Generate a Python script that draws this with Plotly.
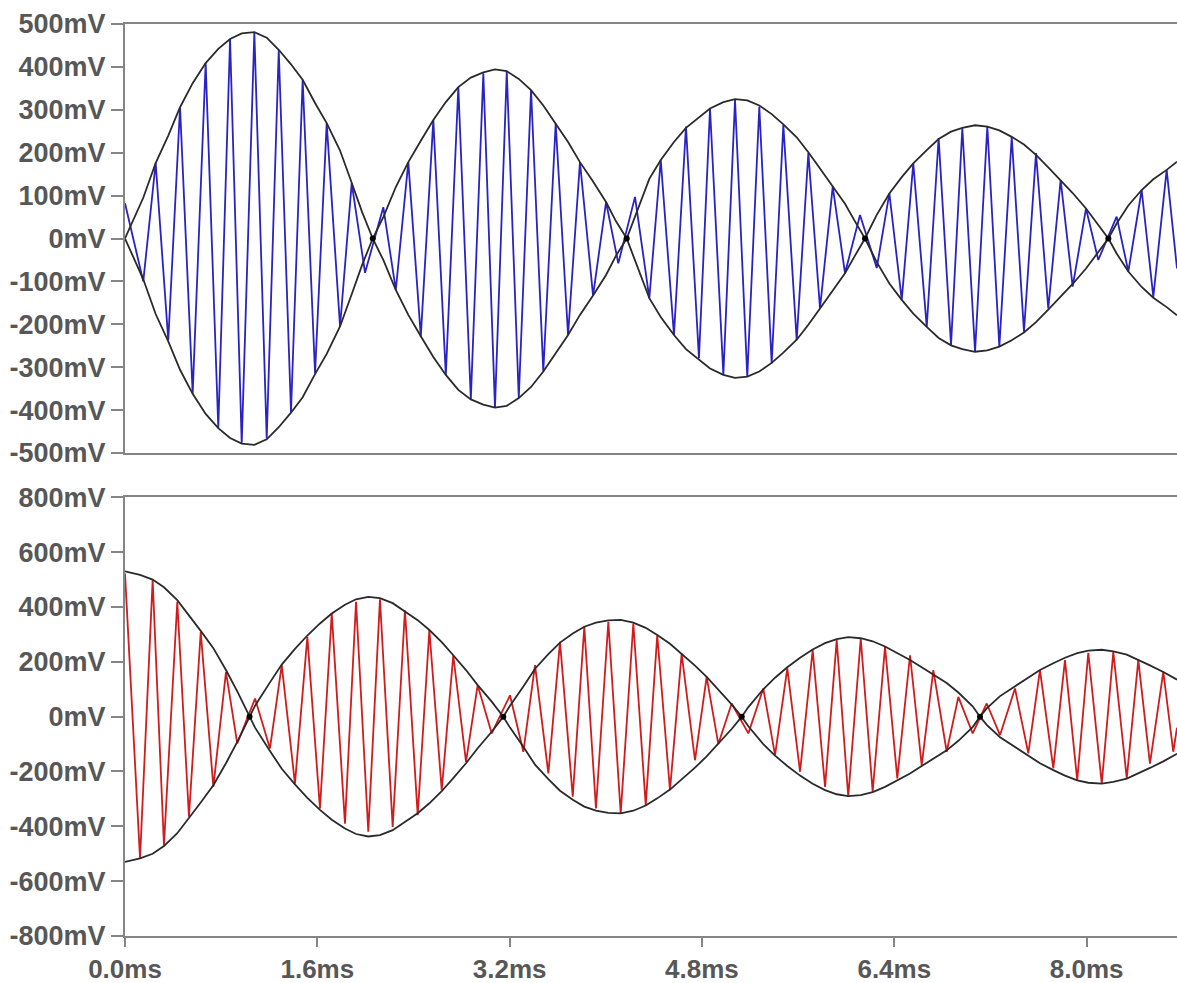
import plotly.graph_objects as go

# ---------------- data (time in ms, voltage in mV) ----------------
# Top trace (blue): successive extrema of the oscillation
top_t = [0.000, 0.152, 0.255, 0.360, 0.458, 0.563, 0.671, 0.776, 0.874, 0.971,
         1.076, 1.179, 1.279, 1.381, 1.478, 1.581, 1.678, 1.789, 1.886, 1.997,
         2.149, 2.253, 2.357, 2.461, 2.565, 2.669, 2.773, 2.877, 2.981, 3.078,
         3.176, 3.276, 3.378, 3.480, 3.583, 3.686, 3.785, 3.894, 4.002, 4.104,
         4.243, 4.362, 4.457, 4.567, 4.667, 4.775, 4.867, 4.978, 5.075, 5.177,
         5.277, 5.380, 5.477, 5.588, 5.685, 5.782, 5.888, 5.990, 6.115, 6.254,
         6.359, 6.462, 6.558, 6.670, 6.769, 6.872, 6.966, 7.072, 7.174, 7.274,
         7.377, 7.479, 7.579, 7.681, 7.784, 7.884, 7.995, 8.097, 8.250, 8.347,
         8.458, 8.555, 8.666, 8.752]
top_mv = [82, -100, 176, -237, 306, -361, 409, -441, 465, -478,
          480, -466, 439, -405, 370, -314, 269, -205, 129, -80,
          73, -120, 178, -228, 276, -318, 353, -375, 385, -394,
          389, -372, 346, -310, 268, -225, 178, -133, 85, -58,
          97, -139, 183, -225, 261, -279, 303, -318, 323, -322,
          307, -291, 265, -237, 199, -163, 121, -81, 55, -69,
          105, -143, 175, -206, 234, -248, 257, -264, 261, -252,
          237, -217, 199, -163, 136, -112, 70, -50, 51, -77,
          113, -136, 160, -70]

# Top envelope (black), signed: drawn as +env and -env
top_env_t = [0.000, 0.152, 0.255, 0.360, 0.458, 0.563, 0.671, 0.776, 0.874, 0.971,
             1.076, 1.179, 1.279, 1.381, 1.478, 1.581, 1.678, 1.789, 1.886, 1.972, 2.061,
             2.149, 2.253, 2.357, 2.461, 2.565, 2.669, 2.773, 2.877, 2.981, 3.078,
             3.176, 3.276, 3.378, 3.480, 3.583, 3.686, 3.785, 3.894, 4.002, 4.085, 4.174,
             4.243, 4.362, 4.457, 4.567, 4.667, 4.775, 4.867, 4.978, 5.075, 5.177,
             5.277, 5.380, 5.477, 5.588, 5.685, 5.782, 5.888, 5.990, 6.073, 6.156,
             6.254, 6.359, 6.462, 6.558, 6.670, 6.769, 6.872, 6.966, 7.072, 7.174,
             7.274, 7.377, 7.479, 7.579, 7.681, 7.784, 7.884, 7.995, 8.097, 8.181,
             8.250, 8.347, 8.458, 8.555, 8.666, 8.752]
top_env_mv = [0, 95, 176, 240, 306, 362, 409, 442, 465, 478,
              481, 468, 440, 406, 370, 316, 269, 205, 130, 62, 0,
              -50, -120, -178, -228, -276, -318, -353, -375, -387, -394,
              -390, -372, -346, -310, -268, -225, -178, -133, -85, -40, 0,
              50, 139, 183, 225, 258, 283, 303, 318, 325, 322,
              310, 290, 266, 236, 201, 163, 122, 81, 40, 0,
              -55, -105, -143, -175, -206, -232, -249, -258, -264, -261,
              -252, -237, -219, -195, -166, -136, -106, -70, -32, 0,
              35, 77, 113, 138, 160, 179]

# Bottom trace (red): successive extrema of the oscillation
bot_t = [0.000, 0.125, 0.230, 0.324, 0.435, 0.532, 0.630, 0.735, 0.840, 0.934,
         1.082, 1.206, 1.304, 1.414, 1.517, 1.622, 1.720, 1.830, 1.922, 2.024,
         2.121, 2.227, 2.329, 2.435, 2.532, 2.635, 2.731, 2.837, 2.934, 3.051,
         3.203, 3.314, 3.411, 3.522, 3.619, 3.725, 3.821, 3.918, 4.021, 4.124,
         4.229, 4.332, 4.428, 4.534, 4.631, 4.742, 4.839, 4.936, 5.047, 5.186,
         5.310, 5.408, 5.510, 5.616, 5.721, 5.824, 5.921, 6.017, 6.121, 6.220,
         6.323, 6.425, 6.531, 6.628, 6.725, 6.836, 6.933, 7.052, 7.169, 7.280,
         7.404, 7.515, 7.612, 7.723, 7.820, 7.922, 8.014, 8.126, 8.222, 8.334,
         8.430, 8.527, 8.638, 8.721, 8.752]
bot_mv = [522, -517, 498, -469, 419, -365, 309, -256, 163, -98,
          66, -116, 188, -244, 291, -335, 376, -390, 419, -420,
          428, -402, 388, -359, 315, -268, 224, -165, 115, -61,
          78, -128, 188, -207, 273, -292, 328, -335, 346, -353,
          340, -323, 297, -268, 230, -159, 145, -100, 48, -61,
          103, -140, 176, -201, 243, -256, 279, -292, 285, -274,
          255, -225, 224, -177, 170, -128, 72, -61, 48, -67,
          103, -134, 170, -189, 206, -232, 233, -244, 236, -225,
          206, -171, 163, -128, -40]

# Bottom envelope (black), signed: drawn as +env and -env
bot_env_t = [0.000, 0.125, 0.230, 0.324, 0.435, 0.532, 0.630, 0.735, 0.840, 0.934, 1.036,
             1.082, 1.206, 1.304, 1.414, 1.517, 1.622, 1.720, 1.830, 1.922, 2.024,
             2.121, 2.227, 2.329, 2.435, 2.532, 2.635, 2.731, 2.837, 2.934, 3.051, 3.147,
             3.203, 3.314, 3.411, 3.522, 3.619, 3.725, 3.821, 3.918, 4.021, 4.124,
             4.229, 4.332, 4.428, 4.534, 4.631, 4.742, 4.839, 4.936, 5.047, 5.131,
             5.186, 5.310, 5.408, 5.510, 5.616, 5.721, 5.824, 5.921, 6.017, 6.121,
             6.220, 6.323, 6.425, 6.531, 6.628, 6.725, 6.836, 6.933, 7.052, 7.113,
             7.169, 7.280, 7.404, 7.515, 7.612, 7.723, 7.820, 7.922, 8.014, 8.126,
             8.222, 8.334, 8.430, 8.527, 8.638, 8.752]
bot_env_mv = [530, 517, 500, 472, 425, 370, 313, 250, 170, 92, 0,
              -40, -125, -190, -247, -296, -340, -376, -408, -428, -437,
              -432, -414, -385, -352, -316, -272, -224, -170, -115, -55, 0,
              40, 110, 175, 228, 270, 303, 328, 343, 351, 353,
              343, 324, 298, 266, 230, 186, 145, 100, 45, 0,
              -35, -100, -142, -180, -215, -245, -268, -283, -290, -286,
              -275, -256, -233, -207, -180, -154, -123, -88, -38, 0,
              30, 75, 110, 142, 170, 195, 215, 232, 241, 244,
              238, 226, 208, 187, 163, 135]

# Envelope crossing points (nodes)
top_node_t = [2.061, 4.174, 6.156, 8.181]
bot_node_t = [1.036, 3.147, 5.131, 7.113]

top_ticks = [500, 400, 300, 200, 100, 0, -100, -200, -300, -400, -500]
top_tick_text = ["500mV", "400mV", "300mV", "200mV", "100mV", "0mV",
                 "-100mV", "-200mV", "-300mV", "-400mV", "-500mV"]
bot_ticks = [800, 600, 400, 200, 0, -200, -400, -600, -800]
bot_tick_text = ["800mV", "600mV", "400mV", "200mV", "0mV",
                 "-200mV", "-400mV", "-600mV", "-800mV"]
x_ticks = [0.0, 1.6, 3.2, 4.8, 6.4, 8.0]
x_tick_text = ["0.0ms", "1.6ms", "3.2ms", "4.8ms", "6.4ms", "8.0ms"]

# ---------------- styling ----------------
BLUE = "#2a22c4"
RED = "#d01c1c"
ENV = "#2a2a2a"
AXIS = "#858585"
TXT = "#575757"
FONT = dict(family="Liberation Sans, Arial, sans-serif", size=27, color=TXT, weight="bold")
XFONT = dict(family="Liberation Sans, Arial, sans-serif", size=26, color=TXT, weight="bold")

fig = go.Figure()

# top panel
fig.add_trace(go.Scatter(x=top_t, y=top_mv, mode="lines",
                         line=dict(color=BLUE, width=1.8), xaxis="x", yaxis="y",
                         hoverinfo="skip", showlegend=False))
fig.add_trace(go.Scatter(x=top_env_t, y=top_env_mv, mode="lines",
                         line=dict(color=ENV, width=1.8),
                         xaxis="x", yaxis="y", hoverinfo="skip", showlegend=False))
fig.add_trace(go.Scatter(x=top_env_t, y=[-v for v in top_env_mv], mode="lines",
                         line=dict(color=ENV, width=1.8),
                         xaxis="x", yaxis="y", hoverinfo="skip", showlegend=False))
fig.add_trace(go.Scatter(x=top_node_t, y=[0] * len(top_node_t), mode="markers",
                         marker=dict(color="#000000", size=6), xaxis="x", yaxis="y",
                         hoverinfo="skip", showlegend=False))

# bottom panel
fig.add_trace(go.Scatter(x=bot_t, y=bot_mv, mode="lines",
                         line=dict(color=RED, width=1.8), xaxis="x2", yaxis="y2",
                         hoverinfo="skip", showlegend=False))
fig.add_trace(go.Scatter(x=bot_env_t, y=bot_env_mv, mode="lines",
                         line=dict(color=ENV, width=1.8),
                         xaxis="x2", yaxis="y2", hoverinfo="skip", showlegend=False))
fig.add_trace(go.Scatter(x=bot_env_t, y=[-v for v in bot_env_mv], mode="lines",
                         line=dict(color=ENV, width=1.8),
                         xaxis="x2", yaxis="y2", hoverinfo="skip", showlegend=False))
fig.add_trace(go.Scatter(x=bot_node_t, y=[0] * len(bot_node_t), mode="markers",
                         marker=dict(color="#000000", size=6), xaxis="x2", yaxis="y2",
                         hoverinfo="skip", showlegend=False))

xcommon = dict(range=[0, 8.752], showgrid=False, zeroline=False, showline=True,
               linecolor=AXIS, linewidth=2, mirror=True, automargin=False)
ycommon = dict(showgrid=False, zeroline=False, showline=True, linecolor=AXIS,
               linewidth=2, ticks="outside", ticklen=12, tickwidth=2, tickcolor=AXIS,
               tickfont=FONT, automargin=False)

fig.update_layout(
    width=1177, height=983,
    margin=dict(l=125, r=0, t=24, b=47, autoexpand=False),
    paper_bgcolor="white", plot_bgcolor="white",
    xaxis=dict(domain=[0, 1], anchor="y", showticklabels=False, ticks="", **xcommon),
    yaxis=dict(domain=[0.5296, 1.0], anchor="x", range=[-500, 500],
               tickvals=top_ticks, ticktext=top_tick_text, **ycommon),
    xaxis2=dict(domain=[0, 1], anchor="y2", ticks="outside", ticklen=9, tickwidth=2,
                tickcolor=AXIS, tickvals=x_ticks, ticktext=x_tick_text, tickfont=XFONT,
                **xcommon),
    yaxis2=dict(domain=[0.0, 0.481], anchor="x2", range=[-800, 800],
                tickvals=bot_ticks, ticktext=bot_tick_text, **ycommon),
)

fig.write_html("out.html",
               config={"displayModeBar": False},
               post_script="document.body.style.margin='0';"
                           "document.body.style.overflow='hidden';")
